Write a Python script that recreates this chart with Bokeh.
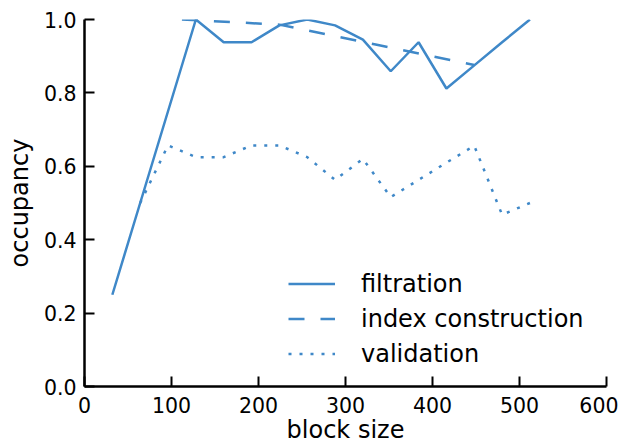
from bokeh.plotting import figure
from bokeh.models import Range1d, FixedTicker, Legend, LegendItem
from bokeh.embed import file_html
from bokeh.resources import INLINE

# ---- data ----
filtration_x = [32, 64, 96, 128, 160, 192, 224, 256, 288, 320, 352, 384, 416, 448, 480, 512]
filtration_y = [0.25, 0.5, 0.75, 1.0, 0.938, 0.938, 0.984, 1.0, 0.984, 0.945, 0.859, 0.938, 0.812, 0.875, 0.938, 1.0]

index_x = [112, 224, 336, 448]
index_y = [1.0, 0.986, 0.931, 0.876]

validation_x = [64, 96, 128, 160, 192, 224, 256, 288, 320, 352, 384, 416, 448, 480, 512]
validation_y = [0.5, 0.657, 0.625, 0.625, 0.657, 0.657, 0.625, 0.563, 0.62, 0.516, 0.563, 0.61, 0.656, 0.468, 0.5]

x_ticks = [0, 100, 200, 300, 400, 500, 600]
x_tick_labels = ["0", "100", "200", "300", "400", "500", "600"]
y_ticks = [0.0, 0.2, 0.4, 0.6, 0.8, 1.0]
y_tick_labels = ["0.0", "0.2", "0.4", "0.6", "0.8", "1.0"]

series_names = ["filtration", "index construction", "validation"]
x_title = "block size"
y_title = "occupancy"

COLOR = "#3f88c8"
FONT = "DejaVu Sans"

p = figure(width=618, height=447, output_backend="svg", toolbar_location=None,
           x_range=Range1d(0, 600), y_range=Range1d(0, 1.0),
           min_border_left=84, min_border_right=12, min_border_top=19, min_border_bottom=61)
p.outline_line_color = None
p.grid.visible = False
p.background_fill_color = "white"
p.border_fill_color = "white"

r1 = p.line(filtration_x, filtration_y, line_color=COLOR, line_width=2.5)
r2 = p.line(index_x, index_y, line_color=COLOR, line_width=2.5, line_dash="16 16")
r3 = p.line(validation_x, validation_y, line_color=COLOR, line_width=2.5, line_dash="3 8")

for ax, ticks, labels in ((p.xaxis[0], x_ticks, x_tick_labels), (p.yaxis[0], y_ticks, y_tick_labels)):
    ax.ticker = FixedTicker(ticks=ticks)
    ax.major_label_overrides = {t: l for t, l in zip(ticks, labels)}
    ax.minor_tick_line_color = None
    ax.major_tick_in = 10
    ax.major_tick_out = 0
    ax.major_tick_line_width = 2
    ax.major_tick_line_color = "black"
    ax.axis_line_width = 2.5
    ax.axis_line_color = "black"
    ax.major_label_text_font = FONT
    ax.major_label_text_font_size = "20.5px"
    ax.major_label_text_color = "black"
    ax.axis_label_text_font = FONT
    ax.axis_label_text_font_size = "24px"
    ax.axis_label_text_font_style = "normal"
    ax.axis_label_text_color = "black"

p.xaxis.axis_label = x_title
p.yaxis.axis_label = y_title
p.xaxis.major_label_standoff = 10
p.xaxis.axis_label_standoff = 0
p.yaxis.major_label_standoff = 8
p.yaxis.axis_label_standoff = 7

legend = Legend(items=[LegendItem(label=series_names[0], renderers=[r1]),
                       LegendItem(label=series_names[1], renderers=[r2]),
                       LegendItem(label=series_names[2], renderers=[r3])],
                location=(204, 15), orientation="vertical",
                glyph_width=47, glyph_height=35, label_height=35, spacing=0,
                label_standoff=26, padding=0, margin=0,
                border_line_color=None, background_fill_alpha=0,
                label_text_font=FONT, label_text_font_size="24px", label_text_color="black")
p.add_layout(legend, "center")

open("out.html", "w").write(file_html(p, INLINE))
